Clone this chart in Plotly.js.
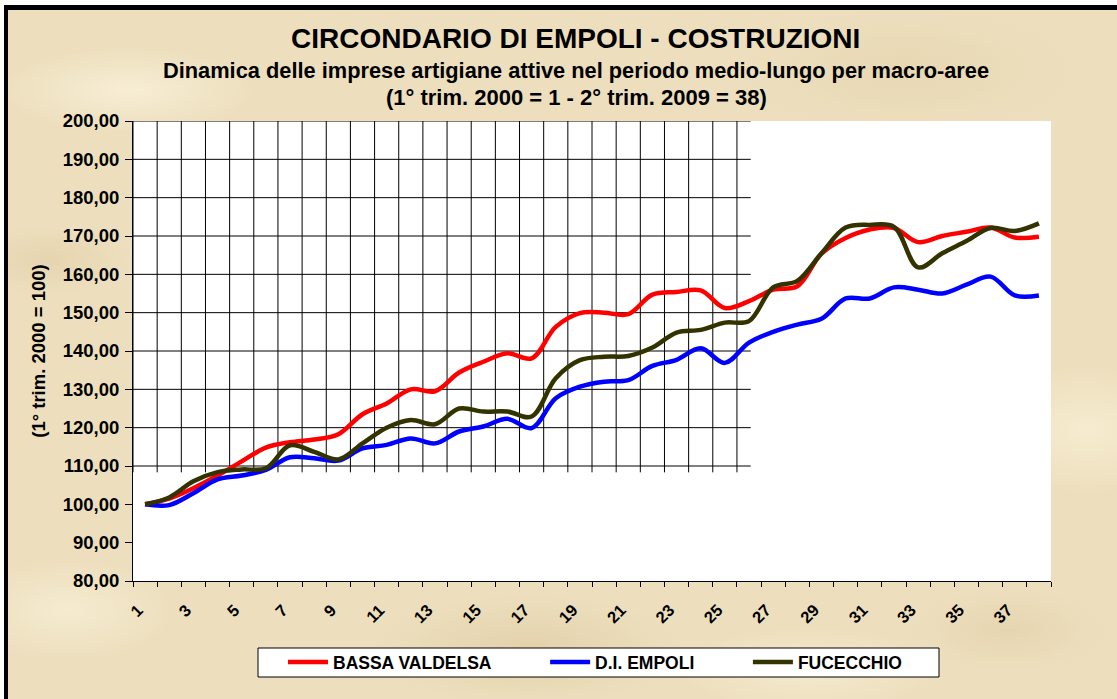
<!DOCTYPE html>
<html>
<head>
<meta charset="utf-8">
<script src="https://cdn.plot.ly/plotly-3.0.1.min.js"></script>
<style>
  html, body { margin: 0; padding: 0; background: #ffffff; width: 1117px; height: 699px; overflow: hidden; }
  #frame {
    position: absolute; left: 4px; top: 5px; width: 1140px; height: 720px;
    border-left: 4px solid #000; border-top: 5px solid #000;
    background-color: #EDDFBE;
    background-image:
      radial-gradient(ellipse 180px 60px at 120px 80px, rgba(255,248,228,0.6), rgba(255,248,228,0) 70%),
      radial-gradient(ellipse 220px 80px at 520px 640px, rgba(215,192,148,0.45), rgba(215,192,148,0) 70%),
      radial-gradient(ellipse 160px 90px at 1080px 420px, rgba(255,246,222,0.55), rgba(255,246,222,0) 70%),
      radial-gradient(ellipse 200px 70px at 300px 320px, rgba(220,198,155,0.35), rgba(220,198,155,0) 70%),
      radial-gradient(ellipse 240px 90px at 900px 60px, rgba(224,204,162,0.4), rgba(224,204,162,0) 70%),
      radial-gradient(ellipse 150px 70px at 60px 600px, rgba(255,247,226,0.5), rgba(255,247,226,0) 70%),
      radial-gradient(ellipse 120px 50px at 40px 250px, rgba(218,196,152,0.4), rgba(218,196,152,0) 70%),
      radial-gradient(ellipse 180px 60px at 800px 660px, rgba(255,247,226,0.45), rgba(255,247,226,0) 70%),
      radial-gradient(ellipse 140px 60px at 1000px 620px, rgba(220,198,155,0.4), rgba(220,198,155,0) 70%);
  }
  #chart { position: absolute; left: 0; top: 0; width: 1117px; height: 699px; }
</style>
</head>
<body>
<div id="frame"></div>
<div id="chart"></div>
<script>
// ---- data ----
const quarters = [1,2,3,4,5,6,7,8,9,10,11,12,13,14,15,16,17,18,19,20,21,22,23,24,25,26,27,28,29,30,31,32,33,34,35,36,37,38];
const tickLabels = ["1","3","5","7","9","11","13","15","17","19","21","23","25","27","29","31","33","35","37"];
const tickValues = [1,3,5,7,9,11,13,15,17,19,21,23,25,27,29,31,33,35,37];
const seriesNames = ["BASSA VALDELSA", "D.I. EMPOLI", "FUCECCHIO"];
const bassaValdelsa = [100.0,101.5,104.2,107.5,111.2,114.8,116.2,116.9,118.3,123.5,126.3,130.0,129.5,134.4,137.2,139.4,138.1,146.3,149.9,150.0,149.6,154.7,155.4,155.8,151.2,153.0,156.0,156.9,165.4,169.5,171.7,172.1,168.4,170.0,171.1,172.2,169.6,169.8];
const diEmpoli = [100.0,99.8,102.9,106.5,107.5,109.0,112.3,112.0,111.4,114.6,115.5,117.2,115.9,119.0,120.3,122.3,119.9,127.7,130.7,132.0,132.4,136.1,137.7,140.7,136.9,142.2,145.0,146.9,148.4,153.7,153.7,156.6,156.0,155.0,157.3,159.4,154.5,154.5];
const fucecchio = [100.0,101.8,106.0,108.4,109.1,109.4,115.4,113.7,111.7,115.9,120.0,122.0,120.9,125.0,124.2,124.2,122.9,132.9,137.6,138.5,138.7,140.9,144.8,145.5,147.4,147.8,156.6,158.3,165.5,172.2,172.9,172.4,161.8,165.5,168.7,172.1,171.3,173.3];

// ---- layout constants (pixels) ----
const W = 1117, H = 699;
const mL = 133, mR = 66, mT = 121, mB = 118;
const plotW = W - mL - mR, plotH = H - mT - mB;
const px2x = p => (p - mL) / plotW;
const px2y = p => (H - mB - p) / plotH;

const FONT = "Arial, 'Liberation Sans', sans-serif";
const pad = "\u00a0".repeat(10);

const colors = ["#FF0000", "#0000FF", "#333300"];
const values = [bassaValdelsa, diEmpoli, fucecchio];
const traces = values.map((v, k) => ({
  type: "scatter", mode: "lines",
  x: quarters, y: v,
  name: seriesNames[k] + pad,
  line: { color: colors[k], width: 4.5, shape: "spline", smoothing: 1 },
  hoverinfo: "skip"
}));

// partial grid (only covers the upper-left part of the plot, as in the reference)
const shapes = [];
for (let g = 110; g <= 200; g += 10) {
  shapes.push({ type: "line", xref: "x", yref: "y", x0: 0.5, x1: 26.07, y0: g, y1: g,
    line: { color: "#000000", width: 1 }, layer: "below" });
}
for (let b = 0.5; b <= 25.5; b += 1) {
  shapes.push({ type: "line", xref: "x", yref: "y", x0: b, x1: b, y0: 108.35, y1: 200,
    line: { color: "#000000", width: 1 }, layer: "below" });
}
// legend box
shapes.push({ type: "rect", xref: "paper", yref: "paper",
  x0: px2x(258), x1: px2x(939), y0: px2y(648), y1: px2y(677),
  fillcolor: "#ffffff", line: { color: "#000000", width: 1 }, layer: "above" });

const annotations = [
  { text: "<b>CIRCONDARIO DI EMPOLI - COSTRUZIONI</b>", x: px2x(575), y: px2y(38),
    font: { size: 28, color: "#000", family: FONT } },
  { text: "<b>Dinamica delle imprese artigiane attive nel periodo medio-lungo per macro-aree</b>", x: px2x(575.5), y: px2y(70),
    font: { size: 21.8, color: "#000", family: FONT } },
  { text: "<b>(1° trim. 2000 = 1 - 2° trim. 2009 = 38)</b>", x: px2x(576.5), y: px2y(97),
    font: { size: 22, color: "#000", family: FONT } }
].map(a => Object.assign({ xref: "paper", yref: "paper", showarrow: false, xanchor: "center", yanchor: "middle" }, a));

const layout = {
  width: W, height: H,
  margin: { l: mL, r: mR, t: mT, b: mB, pad: 0 },
  paper_bgcolor: "rgba(0,0,0,0)",
  plot_bgcolor: "#ffffff",
  separators: ",.",
  font: { family: FONT, color: "#000" },
  showlegend: true,
  legend: {
    orientation: "h", x: px2x(283), xanchor: "left", y: px2y(662), yanchor: "middle",
    bgcolor: "rgba(0,0,0,0)", borderwidth: 0, itemwidth: 40,
    font: { size: 17.5, family: FONT, color: "#000", weight: "bold" },
    itemclick: false, itemdoubleclick: false
  },
  xaxis: {
    type: "linear", range: [0.5, 38.5], fixedrange: true,
    tickmode: "array", tickvals: tickValues, ticktext: tickLabels,
    tickangle: -45, ticks: "outside", ticklen: 12, tickcolor: "rgba(0,0,0,0)",
    ticklabelshift: -7,
    tickfont: { size: 16.5, family: FONT, color: "#000", weight: "bold" },
    showgrid: false, zeroline: false,
    showline: true, linecolor: "#000000", linewidth: 1,
    minor: { ticks: "outside", ticklen: 5, tickcolor: "#000000", tickwidth: 1, tick0: 0.5, dtick: 1, showgrid: false }
  },
  yaxis: {
    range: [80, 200], fixedrange: true, dtick: 10, tick0: 80,
    tickformat: ".2f", ticks: "outside", ticklen: 7, tickcolor: "#000000",
    ticklabelstandoff: 2,
    tickfont: { size: 18.5, family: FONT, color: "#000", weight: "bold" },
    showgrid: false, zeroline: false,
    showline: true, linecolor: "#000000", linewidth: 1,
    title: { text: "<b>(1° trim. 2000 = 100)</b>", standoff: 12,
      font: { size: 18.5, family: FONT, color: "#000" } }
  },
  shapes: shapes,
  annotations: annotations
};

Plotly.newPlot("chart", traces, layout, { displayModeBar: false, staticPlot: true });
</script>
</body>
</html>
